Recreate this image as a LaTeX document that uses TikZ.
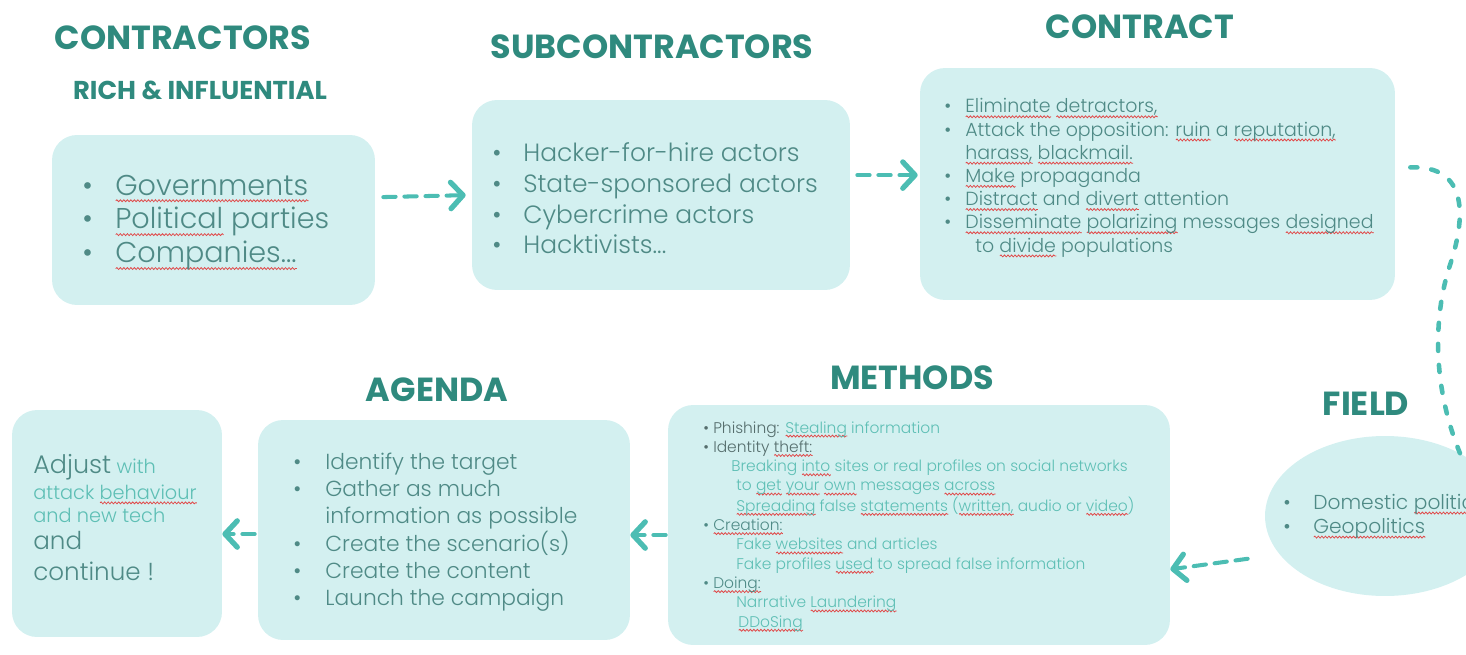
\documentclass[tikz,border=0pt]{standalone}
\usepackage{fontspec}
\setmainfont{Poppins}[UprightFont=* Light, BoldFont=* Bold]
\usetikzlibrary{arrows.meta, shapes.geometric, decorations.pathmorphing}

\definecolor{boxfill}{HTML}{D3F0F0}
\definecolor{titleteal}{HTML}{2F8A7E}
\definecolor{txt}{HTML}{4F8A86}
\definecolor{txtlight}{HTML}{5EBFB5}
\definecolor{txtdark}{HTML}{566E6D}
\definecolor{arrowteal}{HTML}{4CBDB3}
\definecolor{squig}{HTML}{E04A4A}

\newcommand\wavy[1]{\setbox0\hbox{#1}\rlap{\tikz[baseline=0pt]\draw[squig, line width=0.45pt,
  decorate, decoration={snake, amplitude=0.55pt, segment length=2pt}] (0pt,-0.2em) -- (\wd0,-0.2em);}\box0\relax}

\tikzset{
  box/.style={fill=boxfill, rounded corners=0.5cm, inner sep=0pt},
  title/.style={text=titleteal, font=\bfseries\fontsize{19}{22}\selectfont},
  list/.style={anchor=base west, inner sep=0pt, text=txt},
  flow/.style={draw=arrowteal, line width=2.3pt, line cap=round, dash pattern=on 7pt off 5pt,
    -{Straight Barb[round, length=7pt, width=15pt, line width=3pt]}},
  dots/.style={draw=arrowteal, line width=2.6pt, line cap=round, dash pattern=on 4pt off 8pt},
}

\begin{document}
\begin{tikzpicture}[x=0.02cm, y=-0.02cm]
  \useasboundingbox (0,0) rectangle (1466,655);
  \clip (0,0) rectangle (1466,655);

  \node[box, minimum width=6.46cm, minimum height=3.4cm] (govbox) at (213.5,220) {};
  \node[box, minimum width=7.56cm, minimum height=3.8cm] (subbox) at (661,195) {};
  \node[box, minimum width=9.5cm, minimum height=4.64cm] (contractbox) at (1157.5,184) {};
  \node[ellipse, fill=boxfill, minimum width=4.8cm, minimum height=3.2cm] (fieldbox) at (1385,516) {};
  \node[box, minimum width=10.04cm, minimum height=4.8cm] (methodsbox) at (919,525) {};
  \node[box, minimum width=7.44cm, minimum height=4.4cm] (agendabox) at (444,530) {};
  \node[box, minimum width=4.2cm, minimum height=4.54cm] (adjustbox) at (117,523.5) {};

  \node[title] (contractorstitle) at (183,38) {CONTRACTORS};
  \node[title, font=\bfseries\fontsize{14.7}{17}\selectfont] (richtitle) at (200,90) {RICH \& INFLUENTIAL};
  \node[title] (subtitle) at (652,47) {SUBCONTRACTORS};
  \node[title] (contracttitle) at (1140,27) {CONTRACT};
  \node[title] (fieldtitle) at (1366,404) {FIELD};
  \node[title] (methodstitle) at (912,378) {METHODS};
  \node[title] (agendatitle) at (437,390) {AGENDA};

  \node[list, font=\fontsize{16.3}{19.3}\selectfont] (govlist) at (82,195) {\begin{tabular}[t]{@{}p{0.66cm}@{}l@{}}
    \textbullet & \wavy{Governments}\\
    \textbullet & \wavy{Political} parties\\
    \textbullet & \wavy{Companies...}
  \end{tabular}};

  \node[list, font=\fontsize{14.2}{17.4}\selectfont] (sublist) at (492,162) {\begin{tabular}[t]{@{}p{0.62cm}@{}l@{}}
    \textbullet & Hacker-for-hire actors\\
    \textbullet & State-sponsored actors\\
    \textbullet & Cybercrime actors\\
    \textbullet & Hacktivists...
  \end{tabular}};

  \node[list, font=\fontsize{10.8}{13.2}\selectfont] (contractlist) at (944,113) {\begin{tabular}[t]{@{}p{0.42cm}@{}l@{}}
    \textbullet & \wavy{Eliminate} \wavy{detractors,}\\
    \textbullet & Attack the opposition: \wavy{ruin} a \wavy{reputation,}\\
    & \wavy{harass,} \wavy{blackmail.}\\
    \textbullet & \wavy{Make} propaganda\\
    \textbullet & \wavy{Distract} and \wavy{divert} attention\\
    \textbullet & \wavy{Disseminate} \wavy{polarizing} messages \wavy{designed}\\
    & \hspace{0.2cm}to \wavy{divide} populations
  \end{tabular}};

  \node[list, font=\fontsize{11.5}{13.7}\selectfont] (fieldlist) at (1283,509) {\begin{tabular}[t]{@{}p{0.6cm}@{}l@{}}
    \textbullet & Domestic \wavy{politics}\\
    \textbullet & \wavy{Geopolitics}
  \end{tabular}};

  \node[list, font=\fontsize{8.8}{11}\selectfont] (methodslist) at (703,433) {\begin{tabular}[t]{@{}l@{}}
    \textcolor{txtdark}{\textbullet\ Phishing:} \textcolor{txtlight}{\wavy{Stealing} information}\\
    \textcolor{txtdark}{\textbullet\ Identity \wavy{theft:}}\\
    \color{txtlight}\hspace{0.56cm}Breaking \wavy{into} sites or real profiles on social networks\\
    \color{txtlight}\hspace{0.66cm}to \wavy{get} \wavy{your} \wavy{own} messages \wavy{across}\\
    \color{txtlight}\hspace{0.66cm}\wavy{Spreading} false \wavy{statements} (\wavy{written,} audio or \wavy{video})\\
    \textbullet\ \wavy{Creation:}\\
    \color{txtlight}\hspace{0.66cm}Fake \wavy{websites} and articles\\
    \color{txtlight}\hspace{0.66cm}Fake profiles \wavy{used} to spread false information\\
    \textbullet\ \wavy{Doing:}\\
    \color{txtlight}\hspace{0.66cm}Narrative \wavy{Laundering}\\
    \color{txtlight}\hspace{0.7cm}\wavy{DDoSing}
  \end{tabular}};

  \node[list, font=\fontsize{12.4}{15.4}\selectfont] (agendalist) at (293,469) {\begin{tabular}[t]{@{}p{0.64cm}@{}l@{}}
    \textbullet & Identify the target\\
    \textbullet & Gather as much\\
    & information as possible\\
    \textbullet & Create the scenario(s)\\
    \textbullet & Create the content\\
    \textbullet & Launch the campaign
  \end{tabular}};

  \node[list, font=\fontsize{11}{14.8}\selectfont] (adjusttext) at (33,473) {\begin{tabular}[t]{@{}l@{}}
    {\fontsize{14.5}{16}\selectfont Adjust} \textcolor{txtlight}{with}\\
    \textcolor{txtlight}{attack \wavy{behaviour}}\\[-1.7pt]
    \textcolor{txtlight}{and new tech}\\[1.1pt]
    {\fontsize{14}{16}\selectfont and}\\[2.3pt]
    {\fontsize{14}{16}\selectfont continue !}
  \end{tabular}};

  \draw[flow, shorten <=0.16cm, shorten >=0.12cm] (govbox.8) -- (subbox.west);
  \draw[flow, shorten <=0.14cm, shorten >=0.04cm] (subbox.6) -- (subbox.6 -| contractbox.west);
  \draw[dots] ([xshift=0.3cm]contractbox.4) .. controls (1470,165) and (1465,220) .. (1450,265)
    .. controls (1435,310) and (1430,380) .. (fieldbox.40);
  \draw[flow, shorten <=0.64cm] (fieldbox.200) -- (methodsbox.-10);
  \draw[flow, shorten <=0.04cm] ([yshift=-0.2cm]methodsbox.west) -- ([yshift=-0.2cm]methodsbox.west -| agendabox.east);
  \draw[flow, shorten <=0.06cm] ([yshift=-0.08cm]agendabox.west) -- ([yshift=-0.08cm]agendabox.west -| adjustbox.east);
\end{tikzpicture}
\end{document}
